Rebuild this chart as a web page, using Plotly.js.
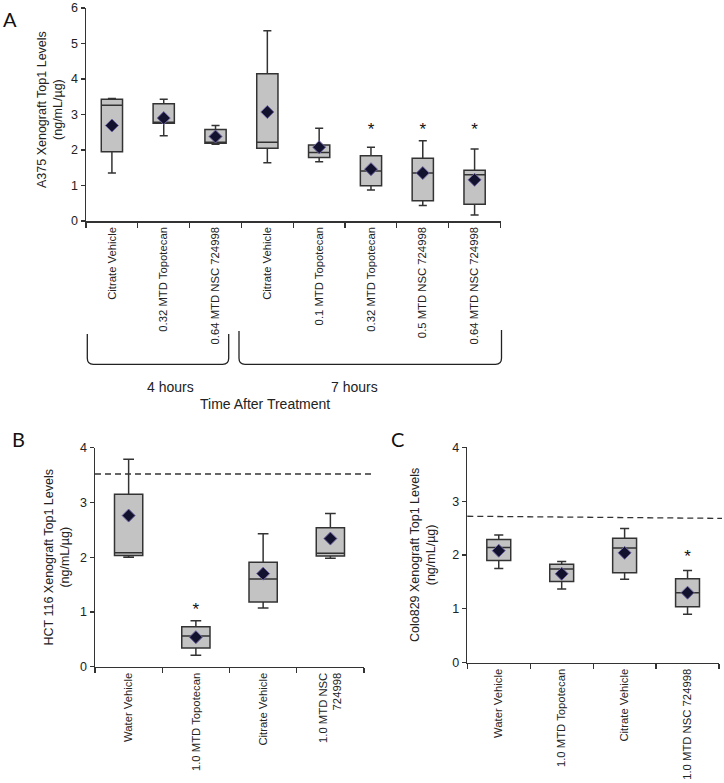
<!DOCTYPE html>
<html>
<head>
<meta charset="utf-8">
<script src="https://cdn.plot.ly/plotly-3.0.1.min.js"></script>
<style>html,body{margin:0;padding:0;background:#fff;}#chart{width:724px;height:783px;}</style>
</head>
<body>
<div id="chart"></div>
<script>
// ---------- Panel A data ----------
const idsA = ['a1','a2','a3','a4','a5','a6','a7','a8'];
const labelsA = ['Citrate Vehicle','0.32 MTD Topotecan','0.64 MTD NSC 724998','Citrate Vehicle','0.1 MTD Topotecan','0.32 MTD Topotecan','0.5 MTD NSC 724998','0.64 MTD NSC 724998'];
const lowA  = [1.35, 2.40, 2.16, 1.64, 1.67, 0.87, 0.44, 0.17];
const q1A   = [1.95, 2.75, 2.19, 2.05, 1.79, 0.99, 0.57, 0.47];
const medA  = [3.26, 2.78, 2.22, 2.22, 1.93, 1.41, 1.35, 1.30];
const q3A   = [3.43, 3.30, 2.58, 4.15, 2.14, 1.84, 1.77, 1.43];
const highA = [3.45, 3.43, 2.69, 5.36, 2.61, 2.08, 2.26, 2.03];
const meanA = [2.69, 2.90, 2.38, 3.07, 2.08, 1.46, 1.35, 1.16];
const starsA = ['a6','a7','a8'];
const starYA = [2.53, 2.53, 2.53];
const groupsA = ['4 hours','7 hours'];

// ---------- Panel B data ----------
const idsB = ['b1','b2','b3','b4'];
const labelsB = ['Water Vehicle','1.0 MTD Topotecan','Citrate Vehicle','1.0 MTD NSC<br>724998'];
const lowB  = [2.00, 0.21, 1.07, 1.98];
const q1B   = [2.03, 0.34, 1.18, 2.02];
const medB  = [2.08, 0.56, 1.60, 2.07];
const q3B   = [3.15, 0.73, 1.91, 2.54];
const highB = [3.79, 0.84, 2.43, 2.80];
const meanB = [2.76, 0.54, 1.70, 2.34];
const starsB = ['b2'];
const starYB = [1.03];
const refB = [3.52, 3.52];

// ---------- Panel C data ----------
const idsC = ['c1','c2','c3','c4'];
const labelsC = ['Water Vehicle','1.0 MTD Topotecan','Citrate Vehicle','1.0 MTD NSC 724998'];
const lowC  = [1.75, 1.37, 1.55, 0.90];
const q1C   = [1.90, 1.51, 1.67, 1.04];
const medC  = [2.14, 1.74, 2.13, 1.30];
const q3C   = [2.29, 1.83, 2.31, 1.56];
const highC = [2.37, 1.88, 2.49, 1.71];
const meanC = [2.08, 1.65, 2.04, 1.30];
const starsC = ['c4'];
const starYC = [1.95];
const refC = [2.72, 2.68];

// ---------- styling ----------
const W = 724, H = 783;
const FONT = 'Liberation Sans, Arial, sans-serif';
const TXT = '#222';
const AX = '#333';
const px = x => x / W;
const py = y => 1 - y / H;

function boxTrace(ids, lo, q1, med, q3, hi, xa, ya, w) {
  return {
    type: 'box', x: ids, lowerfence: lo, q1: q1, median: med, q3: q3, upperfence: hi,
    xaxis: xa, yaxis: ya, width: w, whiskerwidth: 0.38,
    fillcolor: '#c3c3c3', line: {color: '#333', width: 1.5},
    hoverinfo: 'skip', showlegend: false
  };
}
function meanTrace(ids, m, xa, ya) {
  return {
    type: 'scatter', mode: 'markers', x: ids, y: m, xaxis: xa, yaxis: ya,
    marker: {symbol: 'diamond', size: 10, color: '#12122e', line: {color: '#6f64a0', width: 1}},
    hoverinfo: 'skip', showlegend: false
  };
}
function starTrace(ids, y, xa, ya) {
  return {
    type: 'scatter', mode: 'text', x: ids, y: y, xaxis: xa, yaxis: ya,
    text: ids.map(() => '*'), textposition: 'middle center',
    textfont: {family: FONT, size: 17, color: '#111'},
    hoverinfo: 'skip', showlegend: false
  };
}

const data = [
  boxTrace(idsA, lowA, q1A, medA, q3A, highA, 'x', 'y', 0.41),
  meanTrace(idsA, meanA, 'x', 'y'),
  starTrace(starsA, starYA, 'x', 'y'),
  boxTrace(idsB, lowB, q1B, medB, q3B, highB, 'x2', 'y2', 0.42),
  meanTrace(idsB, meanB, 'x2', 'y2'),
  starTrace(starsB, starYB, 'x2', 'y2'),
  boxTrace(idsC, lowC, q1C, medC, q3C, highC, 'x3', 'y3', 0.38),
  meanTrace(idsC, meanC, 'x3', 'y3'),
  starTrace(starsC, starYC, 'x3', 'y3')
];

function xAxis(domain, ids, labels, anchor) {
  return {
    domain: domain, anchor: anchor, type: 'category',
    tickmode: 'array', tickvals: ids, ticktext: labels,
    range: [-0.5, ids.length - 0.5],
    tickangle: -90, tickson: 'boundaries', ticks: 'outside', ticklen: 5, tickwidth: 1.2, tickcolor: AX,
    showline: true, linecolor: AX, linewidth: 1.5, showgrid: false, zeroline: false,
    tickfont: {family: FONT, size: 11.3, color: TXT}, fixedrange: true
  };
}
function yAxis(domain, range, anchor) {
  return {
    domain: domain, anchor: anchor, range: range, dtick: 1, tick0: 0,
    ticks: 'outside', ticklen: 4, tickwidth: 1.2, tickcolor: AX,
    showline: true, linecolor: AX, linewidth: 1.5, showgrid: false, zeroline: false,
    tickfont: {family: FONT, size: 12.5, color: TXT}, fixedrange: true
  };
}

function bracket(x0, yTop0, x1, yTop1, yBot) {
  const r = 6;
  return 'M ' + px(x0) + ' ' + py(yTop0) +
    ' L ' + px(x0) + ' ' + py(yBot - r) +
    ' Q ' + px(x0) + ' ' + py(yBot) + ' ' + px(x0 + r) + ' ' + py(yBot) +
    ' L ' + px(x1 - r) + ' ' + py(yBot) +
    ' Q ' + px(x1) + ' ' + py(yBot) + ' ' + px(x1) + ' ' + py(yBot - r) +
    ' L ' + px(x1) + ' ' + py(yTop1);
}

function note(x, y, text, size, extra) {
  return Object.assign({
    xref: 'paper', yref: 'paper', x: px(x), y: py(y), text: text, showarrow: false,
    xanchor: 'center', yanchor: 'middle',
    font: {family: FONT, size: size, color: TXT}
  }, extra || {});
}
const LETTER = {family: 'Lato, Open Sans, sans-serif', size: 20, color: '#111'};
const DASH = {color: '#333', width: 1.3, dash: '6px,4px'};

const layout = {
  width: W, height: H, margin: {l: 0, r: 0, t: 0, b: 0},
  paper_bgcolor: '#fff', plot_bgcolor: 'rgba(0,0,0,0)', showlegend: false,
  font: {family: FONT, color: TXT},
  xaxis: xAxis([px(86), px(500.5)], idsA, labelsA, 'y'),
  yaxis: yAxis([py(221), py(8)], [0, 6], 'x'),
  xaxis2: xAxis([px(95), px(364)], idsB, labelsB, 'y2'),
  yaxis2: yAxis([py(666.7), py(447.7)], [0, 4], 'x2'),
  xaxis3: xAxis([px(467.3), px(719)], idsC, labelsC, 'y3'),
  yaxis3: yAxis([py(662.7), py(447.3)], [0, 4], 'x3'),
  shapes: [
    {type: 'path', xref: 'paper', yref: 'paper', path: bracket(87.3, 334, 228.7, 334, 364.3), line: {color: '#222', width: 1.3}},
    {type: 'path', xref: 'paper', yref: 'paper', path: bracket(239, 331, 501.5, 330, 364.3), line: {color: '#222', width: 1.3}},
    {type: 'line', xref: 'x2 domain', yref: 'y2', x0: 0, x1: 1.03, y0: refB[0], y1: refB[1], line: DASH},
    {type: 'line', xref: 'x3 domain', yref: 'y3', x0: 0, x1: 1.012, y0: refC[0], y1: refC[1], line: DASH}
  ],
  annotations: [
    note(10, 19, 'A', 20, {font: LETTER}),
    note(18.5, 438.5, 'B', 20, {font: LETTER}),
    note(397.5, 438.5, 'C', 20, {font: LETTER}),
    note(50, 110, 'A375 Xenograft Top1 Levels<br>(ng/mL/µg)', 12.5, {textangle: -90}),
    note(56.5, 557, 'HCT 116 Xenograft Top1 Levels<br>(ng/mL/µg)', 12.5, {textangle: -90}),
    note(423, 555, 'Colo829 Xenograft Top1 Levels<br>(ng/mL/µg)', 12.5, {textangle: -90}),
    note(170, 387, groupsA[0], 14),
    note(354, 387, groupsA[1], 14),
    note(265, 404, 'Time After Treatment', 14)
  ]
};

Plotly.newPlot('chart', data, layout, {staticPlot: true, displayModeBar: false});
</script>
</body>
</html>
